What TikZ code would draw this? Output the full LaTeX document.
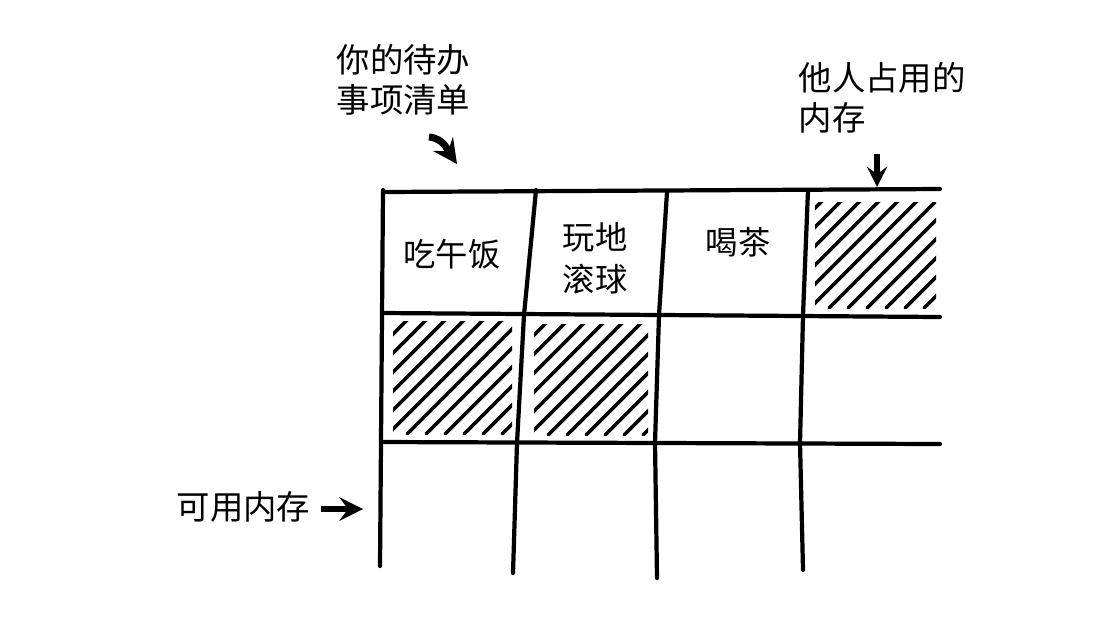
\documentclass[tikz,border=0pt]{standalone}
\usepackage{fontspec}
\newfontfamily\cjk{Noto Sans CJK SC}
\usetikzlibrary{arrows}
\tikzstyle{gridline} = [line width=1.2pt, line cap=round, line join=round]
\tikzstyle{hatch} = [line width=1pt, line cap=round]
\tikzstyle{label} = [align=left, inner sep=0pt, font=\cjk\fontsize{9.5}{11.4}\selectfont]
\tikzstyle{cell} = [align=center, inner sep=0pt, font=\cjk\fontsize{9.2}{10}\selectfont]
\tikzstyle{arrow} = [line width=1.9pt, ->, >=stealth]

\begin{document}
\begin{tikzpicture}[x=0.1mm, y=-0.1mm]
		\useasboundingbox (0,0) rectangle (1120,628);
		
		% grid of memory cells
		\draw [gridline] (383,192) -- (940,189);
		\draw [gridline] (383,313) -- (940,317);
		\draw [gridline] (383,442) -- (940,444);
		\draw [gridline] (383,190) -- (380,566);
		\draw [gridline] (536,190) -- (524,315) -- (517,443) -- (513,573);
		\draw [gridline] (667,192) -- (659,315) -- (655,443) -- (657,578);
		\draw [gridline] (808,190) -- (803,315) -- (800,443) -- (803,570);
		
		% used cells
		\foreach \xa/\ya/\xb/\yb in {815/202/936/308, 393/321/512/434, 534/324/648/435} {
			\begin{scope}
				\clip (\xa,\ya) rectangle (\xb,\yb);
				\foreach \s in {6,25,...,260}
					\draw [hatch] (\xa-125+\s,\yb) -- ++(125,-125);
			\end{scope}
		}
		
		\node (lunch) [cell] at (452,254) {吃午饭};
		\node (bowl) [cell] at (595,258) {玩地\\[2pt]滚球};
		\node (tea) [cell] at (738,242) {喝茶};
		
		\node (todo) [label, anchor=north west] at (336,44) {你的待办\\事项清单};
		\node (other) [label, anchor=north west] at (798,62) {他人占用的\\内存};
		\node (free) [label, anchor=west] at (176,507) {可用内存};
		
		\coordinate (todoa) at (429,137);
		\coordinate (todob) at (457,164);
		\coordinate (othera) at (877,154);
		\coordinate (otherb) at (877,187);
		\coordinate (freea) at (321,509);
		\coordinate (freeb) at (363,509);
		
		\draw [arrow, line width=2pt] (todoa) to [out=-5, in=125] (todob);
		\draw [arrow, line width=1.5pt] (othera) -- (otherb);
		\draw [arrow] (freea) -- (freeb);
		
		\end{tikzpicture}
\end{document}
